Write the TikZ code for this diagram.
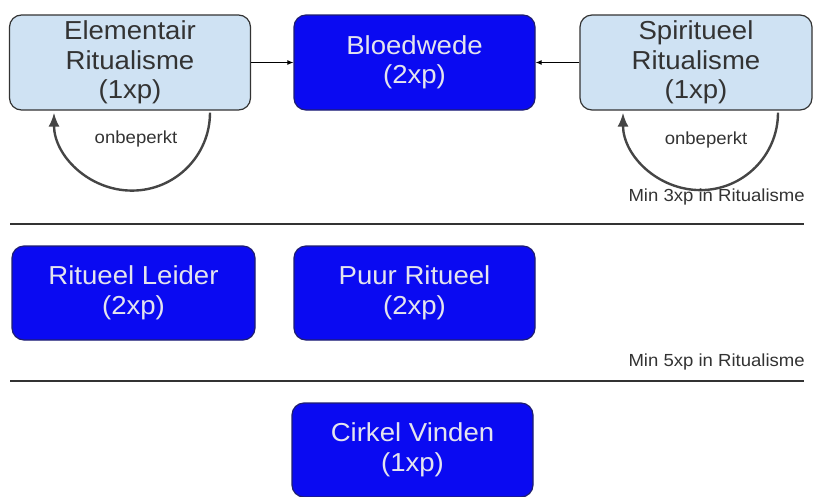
\documentclass[tikz,border=0pt]{standalone}
\usepackage{fontspec}
\setmainfont{Liberation Sans}[FakeStretch=1.06]
\usetikzlibrary{arrows.meta}
\definecolor{lightfill}{HTML}{CFE2F3}
\definecolor{bluefill}{HTML}{0A0AF2}
\definecolor{blueedge}{HTML}{1E1E70}
\definecolor{darktext}{HTML}{333333}
\definecolor{lighttext}{HTML}{E4E4EE}
\definecolor{loopgray}{HTML}{454545}
\begin{document}
\begin{tikzpicture}[x=1pt,y=1pt]
\tikzstyle{every node}+=[inner sep=0pt]
\tikzstyle{skill}=[draw, rounded corners=12pt, line width=1.2pt, minimum width=241pt, minimum height=95pt, align=center, font=\fontsize{26}{29.5}\selectfont]
\tikzstyle{lightnode}=[skill, fill=lightfill, draw=darktext, text=darktext]
\tikzstyle{bluenode}=[skill, fill=bluefill, draw=blueedge, text=lighttext]
\tikzstyle{note}=[font=\fontsize{17.5}{20}\selectfont, text=darktext]
\tikzstyle{link}=[line width=1pt, draw=black, -{Latex[length=6pt,width=5pt]}]
\tikzstyle{selfloop}=[line width=2.4pt, draw=loopgray, -{Latex[length=14pt,width=11pt]}]
\tikzstyle{divider}=[line width=1.3pt, draw=darktext]
\useasboundingbox (0,0) rectangle (814,-496);
% top row
\node [lightnode] (elem) at (130,-62.5) {Elementair\\Ritualisme\\(1xp)};
\node [bluenode] (bloed) at (414.5,-62.5) {Bloedwede\\(2xp)};
\node [lightnode, minimum width=232pt] (spirit) at (696,-62.5) {Spiritueel\\Ritualisme\\(1xp)};
\draw [link] (elem) -- (bloed);
\draw [link] (spirit) -- (bloed);
\draw [selfloop] ([xshift=80pt,yshift=-2pt]elem.south) arc [start angle=0, end angle=-180, radius=78];
\node [note] (elemlbl) at (136,-139) {onbeperkt};
\draw [selfloop] ([xshift=82pt,yshift=-2pt]spirit.south) arc [start angle=0, end angle=-180, radius=77.5];
\node [note] (spiritlbl) at (706,-140) {onbeperkt};
\node [note, anchor=east] (min3) at (805,-197) {Min 3xp in Ritualisme};
\draw [divider] (10,-224) -- (804,-224);
% middle row
\node [bluenode, minimum width=243pt, minimum height=94pt] (leider) at (133.5,-293) {Ritueel Leider\\(2xp)};
\node [bluenode, minimum height=94pt] (puur) at (414.5,-293) {Puur Ritueel\\(2xp)};
\node [note, anchor=east] (min5) at (805,-362) {Min 5xp in Ritualisme};
\draw [divider] (10,-381) -- (804,-381);
% bottom row
\node [bluenode, minimum height=94pt] (cirkel) at (412.5,-450) {Cirkel Vinden\\(1xp)};
\end{tikzpicture}
\end{document}
